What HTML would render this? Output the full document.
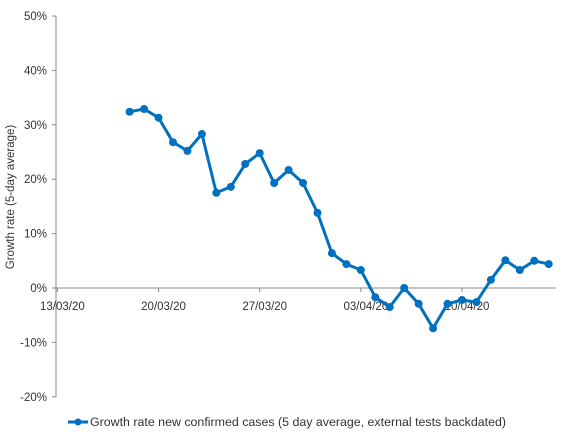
<!DOCTYPE html>
<html><head><meta charset="utf-8"><style>
body{margin:0;background:#fff;}
svg{display:block;font-family:"Liberation Sans",sans-serif;}
</style></head><body>
<svg id="chart" width="563" height="437" viewBox="0 0 563 437">
<g id="axes"></g><g id="series"></g>
<g>
<line x1="68" y1="422" x2="88" y2="422" stroke="#0070C0" stroke-width="3"/>
<circle cx="78" cy="422" r="3.5" fill="#0070C0"/>
<text x="90" y="426" font-size="12.4" fill="#333">Growth rate new confirmed cases (5 day average, external tests backdated)</text>
</g>
</svg>
<script>
const yTicks=[50,40,30,20,10,0,-10,-20];
const dateLabels=["13/03/20","20/03/20","27/03/20","03/04/20","10/04/20"];
const dateLabelDays=[0,7,14,21,28];
const startDay=5;
const values=[32.4,32.9,31.3,26.8,25.2,28.3,17.5,18.6,22.8,24.8,19.3,21.7,19.3,13.8,6.4,4.4,3.3,-1.7,-3.5,0.0,-2.9,-7.4,-2.9,-2.2,-2.6,1.5,5.1,3.3,5.0,4.4];
const NS="http://www.w3.org/2000/svg";
const y=v=>288-v*5.44;
const x=d=>57.4+d*14.45;
const ax=document.getElementById('axes'),se=document.getElementById('series');
function mk(t,a,p){const e=document.createElementNS(NS,t);for(const k in a)e.setAttribute(k,a[k]);p.appendChild(e);return e;}
const yl=mk('line',{x1:56,y1:16,x2:56,y2:397,stroke:'#888','stroke-width':1},ax);


yTicks.forEach(v=>{
 mk('line',{x1:52,y1:y(v),x2:56,y2:y(v),stroke:'#888'},ax);
 const t=mk('text',{x:47,y:y(v)+4,'text-anchor':'end','font-size':11.5,fill:'#333'},ax);
 t.textContent=v+'%';
 
 
});
const xl=mk('line',{x1:56,y1:288,x2:556,y2:288,stroke:'#888'},ax);


dateLabels.forEach((l,i)=>{
 const xx=x(dateLabelDays[i]);
 mk('line',{x1:xx,y1:288,x2:xx,y2:292,stroke:'#888'},ax);
 const t=mk('text',{x:xx+5,y:310,'text-anchor':'middle','font-size':11.5,fill:'#333'},ax);
 t.textContent=l;
 
 
});
const tt=mk('text',{transform:'translate(14,197) rotate(-90)','text-anchor':'middle','font-size':11.5,fill:'#333'},ax);
tt.textContent='Growth rate (5-day average)';


const pts=values.map((v,i)=>x(startDay+i).toFixed(1)+','+y(v).toFixed(1)).join(' ');
const pl=mk('polyline',{points:pts,fill:'none',stroke:'#0070C0','stroke-width':3,'stroke-linejoin':'round'},se);


values.forEach((v,i)=>{
 const c=mk('circle',{cx:x(startDay+i),cy:y(v),r:4,fill:'#0070C0'},se);
 
 
});
</script>
</body></html>
